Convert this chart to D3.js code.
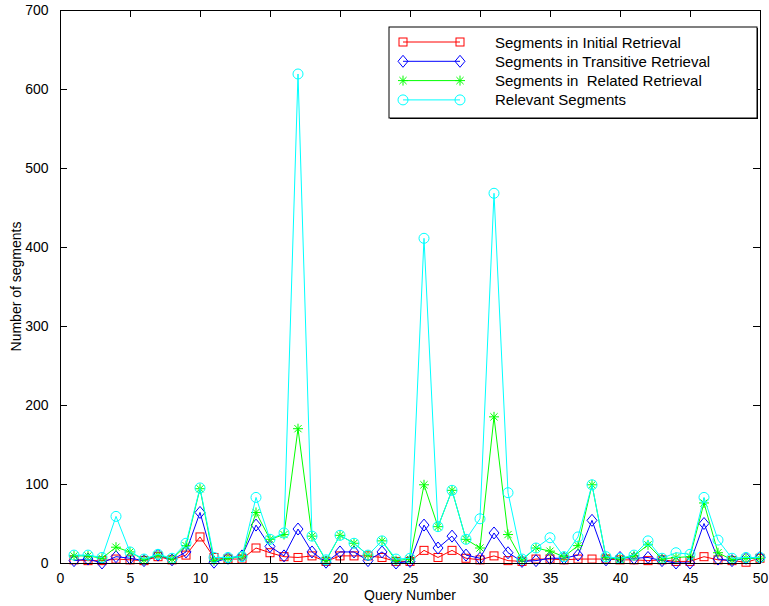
<!DOCTYPE html>
<html><head><meta charset="utf-8">
<script src="https://cdn.jsdelivr.net/npm/d3@7"></script>
<style>body{margin:0;background:#fff}svg{display:block;font-family:"Liberation Sans",Arial,sans-serif}</style>
</head><body><svg id="c" width="769" height="606"></svg>
<script>
const queries = d3.range(1, 51);
const initial = [4,3,3,5,4,3,8,4,10,33,7,5,5,19,13,8,7,9,2,9,9,9,7,2,2,16,7,16,6,4,9,3,2,5,5,4,5,5,5,4,4,3,4,2,2,8,4,3,1,6];
const transitive = [3,5,0,8,6,3,10,4,14,64,1,6,9,48,21,9,43,14,1,14,14,3,14,0,2,48,19,34,10,6,38,13,2,3,6,6,10,54,4,7,6,7,3,0,0,50,5,3,6,7];
const related = [9,9,6,20,14,4,10,5,22,94,3,6,8,64,30,36,170,34,3,35,25,10,28,3,5,99,46,92,30,19,185,36,4,19,15,8,22,99,7,5,9,23,5,7,8,76,13,4,6,6];
const relevant = [10,10,7,59,14,5,11,6,25,95,7,7,8,83,30,38,619,34,4,35,25,10,28,5,6,411,46,92,30,56,468,89,5,19,32,8,33,99,8,6,10,28,6,13,11,83,29,6,7,7];
const seriesNames = ["Segments in Initial Retrieval","Segments in Transitive Retrieval","Segments in  Related Retrieval","Relevant Segments"];
const xTicks = [0,5,10,15,20,25,30,35,40,45,50];
const yTicks = [0,100,200,300,400,500,600,700];

const series = [
  {name: seriesNames[0], values: initial, color: "#ff0000", marker: "square"},
  {name: seriesNames[1], values: transitive, color: "#0000ff", marker: "diamond"},
  {name: seriesNames[2], values: related, color: "#00ff00", marker: "star"},
  {name: seriesNames[3], values: relevant, color: "#00ffff", marker: "circle"}
];

const L = 60, R = 760, T = 10, B = 563;
const svg = d3.select("#c");
const x = d3.scaleLinear().domain([0, 50]).range([L, R]);
const y = d3.scaleLinear().domain([0, 700]).range([B, T]);

function drawMarker(g, type, cx, cy, color) {
  if (type === "square") {
    g.append("rect").attr("x", cx - 4).attr("y", cy - 4).attr("width", 8).attr("height", 8)
      .attr("fill", "none").attr("stroke", color).attr("stroke-width", 1);
  } else if (type === "diamond") {
    g.append("path").attr("d", `M${cx},${cy-6}L${cx+5},${cy}L${cx},${cy+6}L${cx-5},${cy}Z`)
      .attr("fill", "none").attr("stroke", color).attr("stroke-width", 1);
  } else if (type === "circle") {
    g.append("circle").attr("cx", cx).attr("cy", cy).attr("r", 5)
      .attr("fill", "none").attr("stroke", color).attr("stroke-width", 1);
  } else if (type === "star") {
    const r = 5, d = 3.6;
    g.append("path").attr("d",
      `M${cx-r},${cy}L${cx+r},${cy}M${cx},${cy-r}L${cx},${cy+r}M${cx-d},${cy-d}L${cx+d},${cy+d}M${cx-d},${cy+d}L${cx+d},${cy-d}`)
      .attr("fill", "none").attr("stroke", color).attr("stroke-width", 1);
  }
}

const plot = svg.append("g");
const line = d3.line().x((d, i) => x(queries[i])).y(d => y(d));
series.forEach(s => {
  const g = plot.append("g");
  g.append("path").attr("d", line(s.values)).attr("fill", "none").attr("stroke", s.color).attr("stroke-width", 1);
  s.values.forEach((v, i) => drawMarker(g, s.marker, x(queries[i]), y(v), s.color));
});

// axes (MATLAB style, ticks inward on all sides)
const axB = d3.axisBottom(x).tickValues(xTicks).tickSizeInner(-7).tickSizeOuter(0).tickPadding(10);
const axL = d3.axisLeft(y).tickValues(yTicks).tickSizeInner(-7).tickSizeOuter(0).tickPadding(10);
const axT = d3.axisTop(x).tickValues(xTicks).tickSizeInner(-7).tickSizeOuter(0).tickFormat("");
const axR = d3.axisRight(y).tickValues(yTicks).tickSizeInner(-7).tickSizeOuter(0).tickFormat("");
const gB = svg.append("g").attr("transform", `translate(0,${B})`).call(axB);
const gL = svg.append("g").attr("transform", `translate(${L},0)`).call(axL);
svg.append("g").attr("transform", `translate(0,${T})`).call(axT);
svg.append("g").attr("transform", `translate(${R},0)`).call(axR);
svg.selectAll(".domain").attr("stroke", "#000").attr("stroke-width", 1);
svg.selectAll(".tick line").attr("stroke", "#000");
svg.selectAll(".tick text").attr("font-size", 14).attr("fill", "#000").attr("font-family", "'Liberation Sans',Arial,sans-serif");
gL.selectAll(".tick text").attr("dx", "-0.1em");

svg.append("text").attr("x", (L + R) / 2).attr("y", 600).attr("text-anchor", "middle")
  .attr("font-size", 14).text("Query Number");
svg.append("text").attr("transform", `translate(21,${(T + B) / 2}) rotate(-90)`).attr("text-anchor", "middle")
  .attr("font-size", 14).text("Number of segments");

// legend
const lg = svg.append("g");
const lx = 389, ly = 27, lw = 368, lh = 91;
lg.append("rect").attr("x", lx + 1).attr("y", ly + 1).attr("width", lw).attr("height", lh).attr("fill", "#000");
lg.append("rect").attr("x", lx).attr("y", ly).attr("width", lw).attr("height", lh).attr("fill", "#fff").attr("stroke", "#000").attr("stroke-width", 1);
series.forEach((s, i) => {
  const yy = 42 + i * 19.3;
  lg.append("line").attr("x1", 403).attr("x2", 460).attr("y1", yy).attr("y2", yy).attr("stroke", s.color).attr("stroke-width", 1);
  drawMarker(lg, s.marker, 403, yy, s.color);
  drawMarker(lg, s.marker, 460, yy, s.color);
  lg.append("text").attr("x", 495).attr("y", yy + 5.5).attr("font-size", 15).attr("fill", "#000")
    .attr("xml:space", "preserve").style("white-space", "pre").text(s.name);
});
</script></body></html>
